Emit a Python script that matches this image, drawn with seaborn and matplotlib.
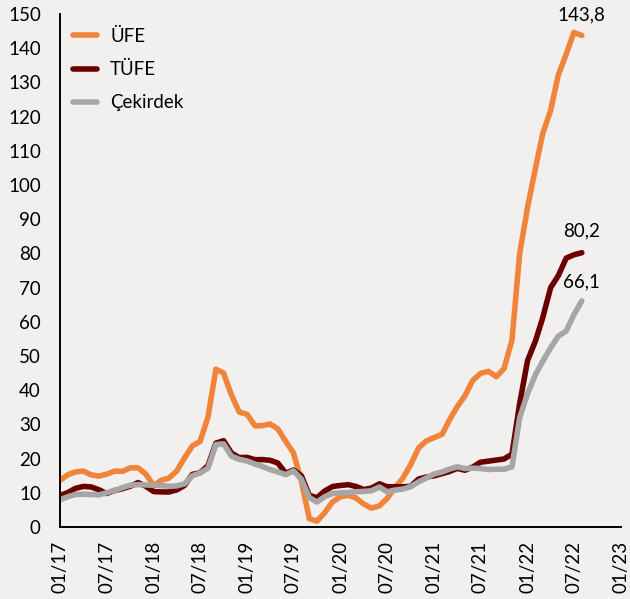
import matplotlib
matplotlib.use("Agg")
import matplotlib.pyplot as plt
import matplotlib.dates as mdates
import seaborn as sns
import pandas as pd
import numpy as np

# ---- data ----
months = pd.date_range("2017-01-01", "2022-08-01", freq="MS")

ufe = [13.69, 15.36, 16.09, 16.37, 15.26, 14.87, 15.45, 16.34, 16.28, 17.28, 17.30, 15.47,
       12.14, 13.71, 14.28, 16.37, 20.16, 23.71, 25.00, 32.13, 46.15, 45.01, 38.54, 33.64,
       32.93, 29.59, 29.64, 30.12, 28.71, 25.04, 21.66, 13.45, 2.45, 1.70, 4.26, 7.36,
       8.84, 9.26, 8.50, 6.71, 5.53, 6.17, 8.33, 11.53, 14.33, 18.20, 23.11, 25.15,
       26.16, 27.09, 31.20, 35.17, 38.33, 42.89, 44.92, 45.52, 43.96, 46.31, 54.62, 79.89,
       93.53, 105.01, 114.97, 121.82, 132.16, 138.31, 144.61, 143.75]

tufe = [9.22, 10.13, 11.29, 11.87, 11.72, 10.90, 9.79, 10.68, 11.20, 11.90, 12.98, 11.92,
        10.35, 10.26, 10.23, 10.85, 12.15, 15.39, 15.85, 17.90, 24.52, 25.24, 21.62, 20.30,
        20.35, 19.67, 19.71, 19.50, 18.71, 15.72, 16.65, 15.01, 9.26, 8.55, 10.56, 11.84,
        12.15, 12.37, 11.86, 10.94, 11.39, 12.62, 11.76, 11.77, 11.75, 11.89, 14.03, 14.60,
        14.97, 15.61, 16.19, 17.14, 16.59, 17.53, 18.95, 19.25, 19.58, 19.89, 21.31, 36.08,
        48.69, 54.44, 61.14, 69.97, 73.50, 78.62, 79.60, 80.21]

cekirdek = [8.0, 8.9, 9.5, 9.6, 9.5, 9.4, 10.0, 10.7, 11.5, 12.2, 12.4, 12.3,
            12.2, 12.1, 11.9, 12.0, 12.6, 15.0, 15.8, 17.2, 24.1, 24.3, 20.7, 19.8,
            19.3, 18.4, 17.7, 16.8, 16.1, 15.3, 16.4, 14.0, 8.6, 7.3, 8.9, 9.8,
            10.0, 10.1, 10.3, 10.4, 10.6, 11.7, 10.3, 10.8, 11.1, 11.8, 13.2, 14.3,
            15.5, 16.1, 16.9, 17.6, 17.1, 17.2, 17.1, 16.8, 16.9, 16.9, 17.6, 31.9,
            39.0, 44.6, 48.4, 52.4, 55.8, 57.3, 62.1, 66.1]

series_names = ["ÜFE", "TÜFE", "Çekirdek"]
colors = ["#F0843A", "#6B0000", "#A6A6A6"]
end_labels = ["143,8", "80,2", "66,1"]

df = pd.concat([
    pd.DataFrame({"date": months, "value": vals, "series": name})
    for name, vals in zip(series_names, [ufe, tufe, cekirdek])
], ignore_index=True)

# ---- style ----
bg = "#F2F0EF"
fs = 13.5
sns.set_theme(style="white")
plt.rcParams["font.family"] = ["Lato", "DejaVu Sans"]

fig = plt.figure(figsize=(6.30, 5.99), dpi=100, facecolor=bg)
ax = fig.add_axes([0.0957, 0.1202, 0.89, 0.8564])
ax.set_facecolor(bg)

sns.lineplot(data=df, x="date", y="value", hue="series", hue_order=series_names,
             palette=dict(zip(series_names, colors)), linewidth=4.0, ax=ax,
             legend=True)

# axes
ax.set_xlim(pd.Timestamp("2017-01-01"), pd.Timestamp("2023-01-01"))
ax.set_ylim(0, 150)
ax.set_yticks(np.arange(0, 151, 10))
ax.xaxis.set_major_locator(mdates.MonthLocator(bymonth=[1, 7]))
ax.xaxis.set_major_formatter(mdates.DateFormatter("%m/%y"))
ax.set_xlabel("")
ax.set_ylabel("")
for s in ["top", "right"]:
    ax.spines[s].set_visible(False)
for s in ["left", "bottom"]:
    ax.spines[s].set_color("black")
    ax.spines[s].set_linewidth(1.4)
ax.tick_params(axis="both", which="major", direction="out", length=5, width=1.2,
               color="black", labelcolor="black", labelsize=fs)
ax.tick_params(axis="y", pad=9)
ax.tick_params(axis="x", pad=5)
plt.setp(ax.get_xticklabels(), rotation=90)

# legend
handles, labels = ax.get_legend_handles_labels()
leg = ax.legend(handles, labels, loc="upper left",
                bbox_to_anchor=(65.0 / 630, 1 - 20.0 / 599), bbox_transform=fig.transFigure,
                frameon=False, fontsize=fs, handlelength=1.28, handletextpad=0.72,
                labelspacing=0.87, borderaxespad=0.0, borderpad=0.4)
for ln in leg.get_lines():
    ln.set_linewidth(4.0)
for t in leg.get_texts():
    t.set_color("black")

# end value labels
offsets = [(0, 15), (0, 15.5), (0, 14)]
for vals, lab, off in zip([ufe, tufe, cekirdek], end_labels, offsets):
    ax.annotate(lab, xy=(months[-1], vals[-1]), xytext=off, textcoords="offset points",
                ha="center", va="center", fontsize=fs, color="black")

fig.savefig("out.png", dpi=100, facecolor=bg)
